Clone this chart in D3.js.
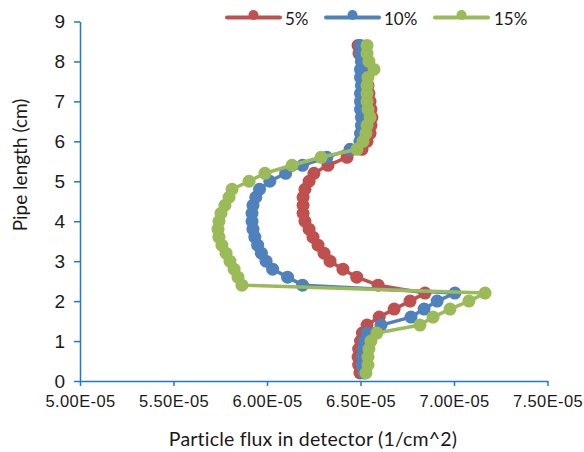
<!DOCTYPE html>
<html>
<head>
<meta charset="utf-8">
<script src="https://cdn.jsdelivr.net/npm/d3@7"></script>
<style>
  html, body { margin: 0; padding: 0; background: #ffffff; }
  svg { display: block; font-family: Lato, "Open Sans", sans-serif; }
</style>
</head>
<body>
<svg id="chart" width="584" height="452"></svg>
<script>
// Pipe positions (cm) sampled along the detector
const pipeLength = [0.2, 0.4, 0.6, 0.8, 1.0, 1.2, 1.4, 1.6, 1.8, 2.0, 2.2, 2.4, 2.6, 2.8,
  3.0, 3.2, 3.4, 3.6, 3.8, 4.0, 4.2, 4.4, 4.6, 4.8, 5.0, 5.2, 5.4, 5.6, 5.8, 6.0,
  6.2, 6.4, 6.6, 6.8, 7.0, 7.2, 7.4, 7.6, 7.8, 8.0, 8.2, 8.4];

// Particle flux in detector, in units of 1e-5 per cm^2
const flux5 = [6.497, 6.49, 6.487, 6.49, 6.50, 6.51, 6.535, 6.60, 6.68, 6.765, 6.845, 6.594,
  6.48, 6.406, 6.337, 6.305, 6.273, 6.246, 6.225, 6.203, 6.193, 6.193, 6.193, 6.203,
  6.225, 6.251, 6.326, 6.428, 6.508, 6.535, 6.551, 6.556, 6.561, 6.556, 6.551, 6.545,
  6.54, 6.535, 6.524, 6.508, 6.492, 6.487];
const flux10 = [6.519, 6.508, 6.51, 6.513, 6.52, 6.535, 6.61, 6.77, 6.84, 6.91, 7.005, 6.19,
  6.11, 6.03, 5.995, 5.97, 5.95, 5.935, 5.925, 5.92, 5.92, 5.925, 5.94, 5.96,
  6.015, 6.10, 6.19, 6.32, 6.444, 6.497, 6.50, 6.505, 6.505, 6.50, 6.50, 6.50,
  6.505, 6.50, 6.50, 6.505, 6.50, 6.50];
const flux15 = [6.529, 6.54, 6.54, 6.545, 6.556, 6.588, 6.818, 6.888, 6.979, 7.08, 7.166, 5.866,
  5.845, 5.824, 5.802, 5.781, 5.759, 5.743, 5.738, 5.743, 5.754, 5.775, 5.797, 5.813,
  5.904, 5.989, 6.134, 6.289, 6.481, 6.513, 6.529, 6.535, 6.551, 6.54, 6.535, 6.535,
  6.535, 6.54, 6.572, 6.545, 6.535, 6.535];
const FLUX_UNIT = 1e-5;

const seriesNames = ["5%", "10%", "15%"];
const seriesColors = ["#C0504D", "#4F81BD", "#9BBB59"];

const xTickValues = [5.0e-5, 5.5e-5, 6.0e-5, 6.5e-5, 7.0e-5, 7.5e-5];
const xTickLabels = ["5.00E-05", "5.50E-05", "6.00E-05", "6.50E-05", "7.00E-05", "7.50E-05"];
const yTickValues = [0, 1, 2, 3, 4, 5, 6, 7, 8, 9];

const xTitle = "Particle flux in detector (1/cm^2)";
const yTitle = "Pipe length (cm)";

const svg = d3.select("#chart");
const plot = { left: 80, right: 547.5, top: 21.5, bottom: 381 };
const axisColor = "#1F78C8";
const textColor = "#1a1a1a";

const x = d3.scaleLinear().domain([5.0e-5, 7.5e-5]).range([plot.left, plot.right]);
const y = d3.scaleLinear().domain([0, 9]).range([plot.bottom, plot.top]);

// X axis
const xAxis = svg.append("g")
  .attr("transform", `translate(0,${plot.bottom})`)
  .call(d3.axisBottom(x).tickValues(xTickValues)
    .tickFormat((d, i) => xTickLabels[i]).tickSizeInner(5).tickSizeOuter(0).tickPadding(9));
xAxis.select(".domain").attr("stroke", axisColor).attr("stroke-width", 1.5);
xAxis.selectAll(".tick line").attr("stroke", axisColor).attr("stroke-width", 1.5);
xAxis.selectAll(".tick text").attr("fill", textColor)
  .style("font-size", "16.5px").style("letter-spacing", "0.4px");

// Y axis
const yAxis = svg.append("g")
  .attr("transform", `translate(${plot.left},0)`)
  .call(d3.axisLeft(y).tickValues(yTickValues).tickSizeInner(6).tickSizeOuter(0).tickPadding(9));
yAxis.select(".domain").attr("stroke", axisColor).attr("stroke-width", 1.5);
yAxis.selectAll(".tick line").attr("stroke", axisColor).attr("stroke-width", 1.5);
yAxis.selectAll(".tick text").attr("fill", textColor).style("font-size", "19px");

// Axis titles
svg.append("text")
  .attr("x", 313).attr("y", 446)
  .attr("text-anchor", "middle")
  .attr("fill", textColor)
  .style("font-size", "19.5px")
  .style("letter-spacing", "0.2px")
  .text(xTitle);

svg.append("text")
  .attr("transform", "translate(27,165) rotate(-90)")
  .attr("text-anchor", "middle")
  .attr("fill", textColor)
  .style("font-size", "19px")
  .text(yTitle);

// Series: lines with circular markers
const allFlux = [flux5, flux10, flux15];
const line = d3.line()
  .x(d => x(d.v * FLUX_UNIT))
  .y(d => y(d.len));

allFlux.forEach((vals, si) => {
  const pts = vals.map((v, i) => ({ v, len: pipeLength[i] }));
  const g = svg.append("g");
  g.append("path")
    .datum(pts)
    .attr("fill", "none")
    .attr("stroke", seriesColors[si])
    .attr("stroke-width", 3.5)
    .attr("stroke-linejoin", "round")
    .attr("d", line);
  g.selectAll("circle")
    .data(pts)
    .join("circle")
    .attr("cx", d => x(d.v * FLUX_UNIT))
    .attr("cy", d => y(d.len))
    .attr("r", 6.5)
    .attr("fill", seriesColors[si]);
});

// Legend
const legendItems = [
  { x0: 227, tx: 285 },
  { x0: 326, tx: 384 },
  { x0: 435, tx: 494 }
];
legendItems.forEach((it, i) => {
  const g = svg.append("g");
  g.append("line")
    .attr("x1", it.x0).attr("x2", it.x0 + 53)
    .attr("y1", 17.5).attr("y2", 17.5)
    .attr("stroke", seriesColors[i]).attr("stroke-width", 4).attr("stroke-linecap", "round");
  g.append("circle")
    .attr("cx", it.x0 + 26.5).attr("cy", 15).attr("r", 5)
    .attr("fill", seriesColors[i]);
  g.append("text")
    .attr("x", it.tx).attr("y", 25)
    .attr("fill", textColor)
    .style("font-size", "17px")
    .text(seriesNames[i]);
});
</script>
</body>
</html>
